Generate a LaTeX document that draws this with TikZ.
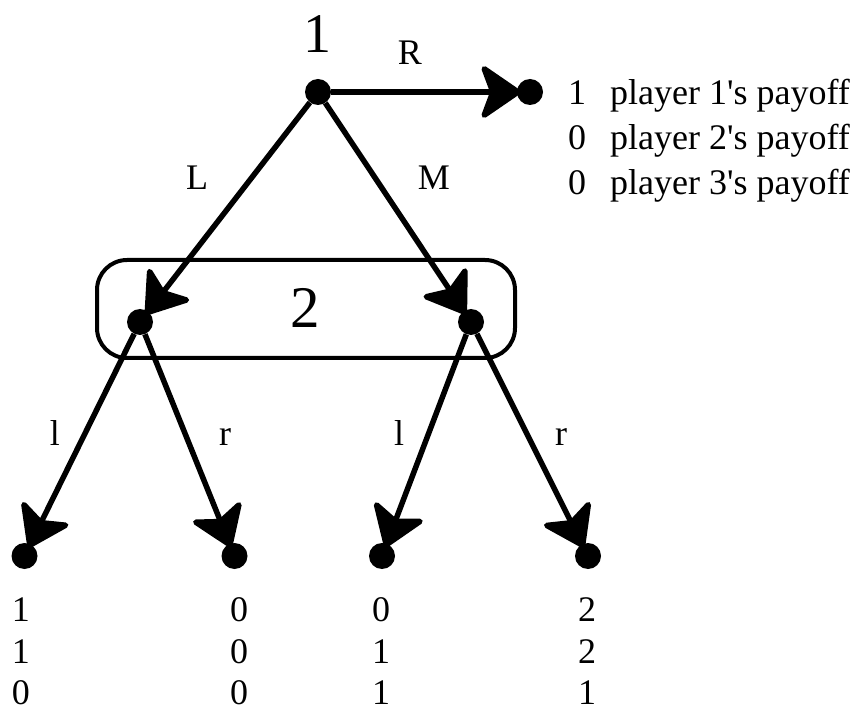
\documentclass[tikz,border=0pt]{standalone}
\usepackage{fontspec}
\setmainfont{Liberation Serif}
\usetikzlibrary{arrows.meta}
\begin{document}
\begin{tikzpicture}[x=1pt,y=-1pt,
  dot/.style={circle,fill=black,minimum size=26pt,inner sep=0pt},
  arr/.style={line width=5.5pt,shorten >=-4pt,-{Stealth[length=44pt,width=60pt,inset=11pt,round]}},
  lbl/.style={anchor=base,inner sep=0pt,font=\fontsize{36}{36}\selectfont},
  pay/.style={anchor=base,inner sep=0pt,font=\fontsize{36}{36}\selectfont},
  big/.style={anchor=base,inner sep=0pt,font=\fontsize{56}{56}\selectfont},
  infoset/.style={line width=4pt,rounded corners=30pt}]
\useasboundingbox (0,0) rectangle (860,711);
% information set of player 2
\draw[infoset] (97,260) rectangle (515,358);
% decision nodes
\node[dot] (root) at (318,92) {};
\node[dot] (rt) at (530,92) {};
\node[dot] (a) at (140,322) {};
\node[dot] (b) at (471,322) {};
\node[dot] (l1) at (24.5,556) {};
\node[dot] (l2) at (234.5,556) {};
\node[dot] (l3) at (382,556) {};
\node[dot] (l4) at (588,556) {};
% moves
\draw[arr] (root) -- (rt);
\draw[arr] (root) -- (a);
\draw[arr] (root) -- (b);
\draw[arr] (a) -- (l1);
\draw[arr] (a) -- (l2);
\draw[arr] (b) -- (l3);
\draw[arr] (b) -- (l4);
% player labels
\node[big] (p1) at (317,53) {1};
\node[big,font=\fontsize{59}{59}\selectfont] (p2) at (305,328) {2};
% action labels
\node[lbl] (tR) at (410,65) {R};
\node[lbl] (tL) at (197,190) {L};
\node[lbl] (tM) at (434,190) {M};
\node[lbl] (tl1) at (55,446) {l};
\node[lbl] (tr1) at (225,446) {r};
\node[lbl] (tl2) at (399,446) {l};
\node[lbl] (tr2) at (561,446) {r};
% payoffs after R
\node[lbl] (q1) at (577,105) {1};
\node[lbl] (q2) at (577,150) {0};
\node[lbl] (q3) at (577,195) {0};
\node[lbl,anchor=base west] (e1) at (610,105) {player 1\textquotesingle s payoff};
\node[lbl,anchor=base west] (e2) at (610,150) {player 2\textquotesingle s payoff};
\node[lbl,anchor=base west] (e3) at (610,195) {player 3\textquotesingle s payoff};
% terminal payoffs
\node[pay] (u11) at (21,621) {1};
\node[pay] (u12) at (21,663) {1};
\node[pay] (u13) at (21,704) {0};
\node[pay] (u21) at (239,621) {0};
\node[pay] (u22) at (239,663) {0};
\node[pay] (u23) at (239,704) {0};
\node[pay] (u31) at (381,621) {0};
\node[pay] (u32) at (381,663) {1};
\node[pay] (u33) at (381,704) {1};
\node[pay] (u41) at (587,621) {2};
\node[pay] (u42) at (587,663) {2};
\node[pay] (u43) at (587,704) {1};
\end{tikzpicture}
\end{document}
